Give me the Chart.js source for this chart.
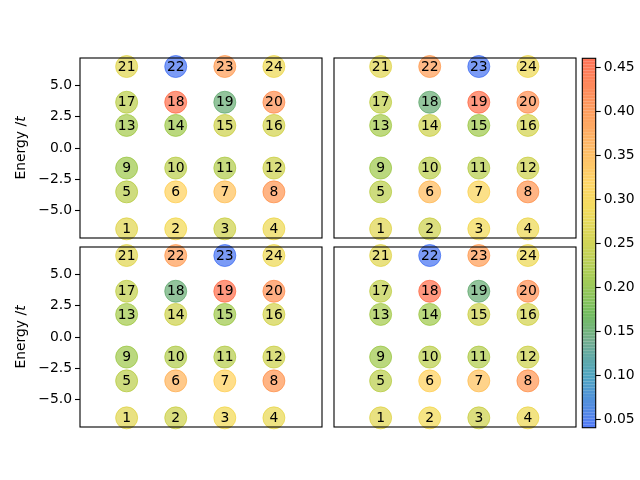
<!DOCTYPE html>
<html><head><meta charset="utf-8">
<script src="https://cdn.jsdelivr.net/npm/chart.js@4.4.0/dist/chart.umd.min.js"></script>
<style>
html,body{margin:0;padding:0;background:#fff;}
#wrap{position:relative;width:640px;height:480px;overflow:hidden;background:#fff;}
canvas{position:absolute;}
</style></head><body>
<div id="wrap">
<canvas id="tl" width="330" height="196" style="left:0px;top:50px;width:330px;height:196px"></canvas>
<canvas id="tr" width="258" height="196" style="left:326px;top:50px;width:258px;height:196px"></canvas>
<canvas id="bl" width="330" height="196" style="left:0px;top:239px;width:330px;height:196px"></canvas>
<canvas id="br" width="258" height="196" style="left:326px;top:239px;width:258px;height:196px"></canvas>
<canvas id="cb" width="65" height="390" style="left:575px;top:50px;width:65px;height:390px"></canvas>
</div>
<script>
// ---------------- data ----------------
const stateLabels = ['1','2','3','4','5','6','7','8','9','10','11','12',
                     '13','14','15','16','17','18','19','20','21','22','23','24'];
const stateX = [1,2,3,4, 1,2,3,4, 1,2,3,4, 1,2,3,4, 1,2,3,4, 1,2,3,4];
const stateEnergy = [-6.45,-6.45,-6.45,-6.45, -3.5,-3.5,-3.5,-3.5,
                     -1.6,-1.6,-1.6,-1.6, 1.8,1.8,1.8,1.8,
                     3.65,3.65,3.65,3.65, 6.5,6.5,6.5,6.5];
const weightTopLeft = [0.27,0.29,0.25,0.285, 0.235,0.32,0.34,0.40,
                       0.21,0.235,0.225,0.25, 0.215,0.21,0.25,0.255,
                       0.235,0.45,0.15,0.41, 0.27,0.045,0.39,0.285];
const weightTopRight = [0.27,0.25,0.29,0.285, 0.235,0.35,0.31,0.40,
                        0.21,0.235,0.23,0.25, 0.215,0.25,0.21,0.255,
                        0.24,0.15,0.45,0.41, 0.27,0.39,0.045,0.285];
const weightBottomLeft = [0.27,0.25,0.29,0.28, 0.235,0.36,0.32,0.40,
                          0.21,0.225,0.23,0.25, 0.215,0.25,0.21,0.255,
                          0.24,0.15,0.45,0.41, 0.27,0.39,0.045,0.285];
const weightBottomRight = [0.27,0.29,0.25,0.285, 0.235,0.32,0.34,0.40,
                           0.21,0.235,0.225,0.25, 0.215,0.21,0.25,0.255,
                           0.24,0.45,0.15,0.41, 0.27,0.045,0.39,0.285];
const energyTicks = [-5.0,-2.5,0.0,2.5,5.0];
const colorbarTicks = [0.05,0.10,0.15,0.20,0.25,0.30,0.35,0.40,0.45];
const colorMin = 0.0405, colorMax = 0.46;

// ---------------- style ----------------
const FONT = 'DejaVu Sans';
const FS = 13.9;
Chart.defaults.font.family = FONT;
Chart.defaults.font.size = FS;
Chart.defaults.color = '#000';
const cmapStops = [
  [0.0405,[35,85,245]],[0.10,[30,140,175]],[0.14,[75,150,110]],[0.17,[75,170,50]],
  [0.21,[140,190,40]],[0.25,[195,200,40]],[0.29,[240,210,50]],[0.32,[255,200,60]],
  [0.36,[255,165,60]],[0.40,[255,130,50]],[0.46,[255,75,40]]
];
function cmap(v){
  if (v <= cmapStops[0][0]) return cmapStops[0][1];
  for (let i=1;i<cmapStops.length;i++){
    if (v <= cmapStops[i][0]){
      const a=cmapStops[i-1], b=cmapStops[i];
      const t=(v-a[0])/(b[0]-a[0]);
      return a[1].map((c,k)=>Math.round(c+(b[1][k]-c)*t));
    }
  }
  return cmapStops[cmapStops.length-1][1];
}
function rgba(c,a){return `rgba(${c[0]},${c[1]},${c[2]},${a})`;}
const ALPHA = 0.6;

const framePlugin = {
  id:'frame',
  afterDraw(chart){
    const {ctx, chartArea:a} = chart;
    ctx.save(); ctx.strokeStyle='#000'; ctx.lineWidth=1.1;
    ctx.strokeRect(a.left, a.top, a.right-a.left, a.bottom-a.top);
    ctx.restore();
  }
};
const labelPlugin = {
  id:'pointLabels',
  afterDatasetsDraw(chart){
    const {ctx} = chart;
    const meta = chart.getDatasetMeta(0);
    ctx.save();
    ctx.font = `${FS}px "${FONT}"`; ctx.fillStyle='#000';
    ctx.textAlign='center'; ctx.textBaseline='middle';
    meta.data.forEach((pt,i)=>{ ctx.fillText(stateLabels[i], pt.x, pt.y+0.5); });
    ctx.restore();
  }
};
const yTitlePlugin = {
  id:'yTitle',
  afterDraw(chart){
    const {ctx, chartArea:a} = chart;
    const cy = (a.top+a.bottom)/2;
    ctx.save();
    ctx.translate(21.5, cy); ctx.rotate(-Math.PI/2);
    ctx.fillStyle='#000'; ctx.textBaseline='middle';
    const part1='Energy /', part2='t';
    ctx.font = `${FS}px "${FONT}"`;
    const w1 = ctx.measureText(part1).width;
    ctx.font = `italic ${FS}px "${FONT}"`;
    const w2 = ctx.measureText(part2).width;
    const x0 = -(w1+w2)/2;
    ctx.font = `${FS}px "${FONT}"`; ctx.textAlign='left';
    ctx.fillText(part1, x0, 0);
    ctx.font = `italic ${FS}px "${FONT}"`;
    ctx.fillText(part2, x0+w1, 0);
    ctx.restore();
  }
};

function makePanel(id, weights, showY){
  const pts = stateX.map((x,i)=>({x:x, y:stateEnergy[i]}));
  const cols = weights.map(w=>cmap(w));
  const plugins = [framePlugin, labelPlugin];
  if (showY) plugins.push(yTitlePlugin);
  return new Chart(document.getElementById(id), {
    type:'scatter',
    data:{datasets:[{
      data:pts,
      backgroundColor: cols.map(c=>rgba(c,ALPHA)),
      borderColor: cols.map(c=>rgba(c,ALPHA)),
      borderWidth:1,
      pointRadius:11, pointHoverRadius:11,
      clip:false
    }]},
    options:{
      responsive:false, maintainAspectRatio:false, animation:false, devicePixelRatio:1,
      events:[],
      plugins:{legend:{display:false}, tooltip:{enabled:false}},
      layout:{autoPadding:false, padding:{left: showY?0:8, right:8, top:8, bottom:8}},
      scales:{
        x:{type:'linear', min:0.05, max:4.98, display:false},
        y:{type:'linear', min:-7.18, max:7.18, display:showY,
           afterFit(s){ if (showY) { s.width = 80; } s.paddingTop = 0; s.paddingBottom = 0; },
           afterBuildTicks(s){ s.ticks = energyTicks.map(v=>({value:v})); },
           border:{display:false},
           grid:{drawOnChartArea:false, drawTicks:true, tickLength:5, tickColor:'#000', tickWidth:1.1},
           ticks:{padding:3, color:'#000', font:{size:FS, family:FONT},
                  callback:(v)=>Number(v).toFixed(1).replace('-','\u2212')}
        }
      }
    },
    plugins
  });
}

makePanel('tl', weightTopLeft, true);
makePanel('tr', weightTopRight, false);
makePanel('bl', weightBottomLeft, true);
makePanel('br', weightBottomRight, false);

// colorbar
const cbPlugin = {
  id:'cbfill',
  beforeDatasetsDraw(chart){
    const {ctx, chartArea:a} = chart;
    const ys = chart.scales.y;
    const n = 120;
    ctx.save();
    for (let i=0;i<n;i++){
      const v0 = colorMin + (colorMax-colorMin)*i/n;
      const v1 = colorMin + (colorMax-colorMin)*(i+1)/n;
      const p0 = ys.getPixelForValue(v0), p1 = ys.getPixelForValue(v1);
      ctx.fillStyle = rgba(cmap((v0+v1)/2), 0.78);
      ctx.fillRect(a.left, p1, a.right-a.left, p0-p1);
    }
    ctx.restore();
  }
};
new Chart(document.getElementById('cb'), {
  type:'scatter',
  data:{datasets:[{data:[], pointRadius:0}]},
  options:{
    responsive:false, maintainAspectRatio:false, animation:false, devicePixelRatio:1, events:[],
    plugins:{legend:{display:false}, tooltip:{enabled:false}},
    layout:{autoPadding:false, padding:{left:7.3, right:0, top:8.3, bottom:12.3}},
    scales:{
      x:{type:'linear', min:0, max:1, display:false},
      y:{type:'linear', position:'right', min:colorMin, max:colorMax,
         afterFit(s){ s.width = 44.3; s.paddingTop = 0; s.paddingBottom = 0; },
         afterBuildTicks(s){ s.ticks = colorbarTicks.map(v=>({value:v})); },
         border:{display:false},
         grid:{drawOnChartArea:false, drawTicks:true, tickLength:5, tickColor:'#000', tickWidth:1.1},
         ticks:{padding:3, color:'#000', font:{size:FS, family:FONT},
                callback:(v)=>Number(v).toFixed(2)}
      }
    }
  },
  plugins:[cbPlugin, framePlugin]
});
</script>
</body></html>
